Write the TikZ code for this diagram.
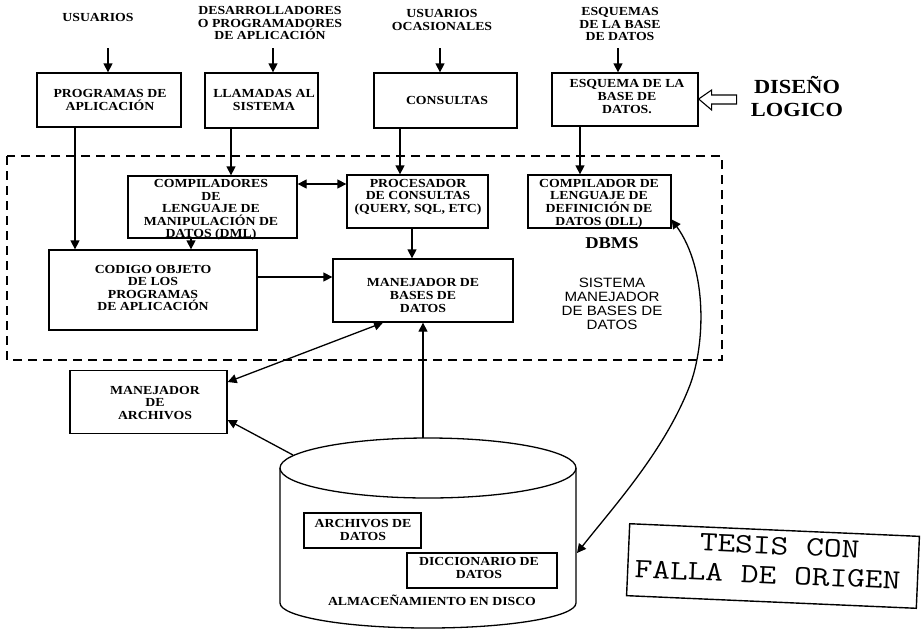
\documentclass[tikz,border=0pt]{standalone}
\usepackage{fontspec}
\setmainfont{Liberation Serif}[FakeStretch=1.12]
\setsansfont{Liberation Sans}[FakeStretch=1.12]
\usetikzlibrary{arrows.meta}

\tikzset{
  txt/.style={font=\bfseries\fontsize{12.3}{12.6}\selectfont, align=center, inner sep=0pt},
  box/.style={draw, line width=1.3pt, inner sep=0pt},
  arr/.style={line width=1.3pt, -{Triangle[length=9pt,width=9pt]}},
  darr/.style={line width=1.3pt, {Triangle[length=9pt,width=9pt]}-{Triangle[length=9pt,width=9pt]}},
  frame/.style={line width=1.9pt, dash pattern=on 9pt off 6pt},
  stamptxt/.style={font=\ttfamily\fontsize{28}{29.5}\selectfont, inner sep=0pt, transform shape},
}

\begin{document}
\begin{tikzpicture}[x=1pt,y=-1pt]
\useasboundingbox (0,0) rectangle (923,630);

% ---------- users and inputs ----------
\node[txt] (tusr) at (98,17) {USUARIOS};
\node[txt] (tdes) at (270,23) {DESARROLLADORES\\O PROGRAMADORES\\DE APLICACIÓN};
\node[txt] (tocas) at (442,20) {USUARIOS\\OCASIONALES};
\node[txt] (tesq) at (620,24) {ESQUEMAS\\DE LA BASE\\DE DATOS};

\coordinate (u0) at (108,48);
\coordinate (d0) at (273,48);
\coordinate (o0) at (440,48);
\coordinate (e0) at (618,48);

% ---------- first row of boxes ----------
\node[box, minimum width=144pt, minimum height=54pt] (progapp) at (109,100) {};
\node[txt] (tprog) at (110,100) {PROGRAMAS DE\\APLICACIÓN};
\node[box, minimum width=113pt, minimum height=55pt] (llam) at (261.5,100.5) {};
\node[txt] (tllam) at (264,100) {LLAMADAS AL\\SISTEMA};
\node[box, minimum width=143pt, minimum height=55pt] (cons) at (445.5,100.5) {};
\node[txt] (tcons) at (447,100) {CONSULTAS};
\node[box, minimum width=146pt, minimum height=53pt] (esq) at (625,99.5) {};
\node[txt] (tesq2) at (627,96.5) {ESQUEMA DE LA\\BASE DE\\DATOS.};

\draw[arr] (u0) -- (progapp.north -| u0);
\draw[arr] (d0) -- (llam.north -| d0);
\draw[arr] (o0) -- (cons.north -| o0);
\draw[arr] (e0) -- (esq.north -| e0);

% logical design hint
\node[font=\bfseries\fontsize{20}{23}\selectfont, align=center, inner sep=0pt] (tdis) at (797,97) {DISEÑO\\LOGICO};
\draw[line width=1.1pt] (esq.east |- 0,99) -- ++(13,-9) -- ++(0,5) -- ++(25,0) -- ++(0,9) -- ++(-25,0) -- ++(0,6) -- cycle;

% ---------- DBMS frame ----------
\draw[frame] (7,156) rectangle (722,360);
\node[font=\bfseries\fontsize{16.5}{18}\selectfont, inner sep=0pt] (tdbms) at (612,243) {DBMS};
\node[font=\sffamily\fontsize{13.5}{14}\selectfont, align=center, inner sep=0pt] (tsis) at (612,304) {SISTEMA\\MANEJADOR\\DE BASES DE\\DATOS};

\node[box, minimum width=169pt, minimum height=62pt] (comp) at (212.5,207) {};
\node[txt] (tcomp) at (211,210) {COMPILADORES\\DE\\LENGUAJE DE\\MANIPULACIÓN DE\\DATOS (DML)};
\node[box, minimum width=141pt, minimum height=53pt] (proc) at (417.5,201.5) {};
\node[txt] (tproc) at (418,197) {PROCESADOR\\DE CONSULTAS\\(QUERY, SQL, ETC)};
\node[box, minimum width=143pt, minimum height=53pt] (dll) at (599.5,201.5) {};
\node[txt] (tdll) at (599,203.5) {COMPILADOR DE\\LENGUAJE DE\\DEFINICIÓN DE\\DATOS (DLL)};

\node[box, minimum width=208pt, minimum height=80pt] (cod) at (153,290) {};
\node[txt] (tcod) at (153,288) {CODIGO OBJETO\\DE LOS\\PROGRAMAS\\DE APLICACIÓN};
\node[box, minimum width=180pt, minimum height=63pt] (mbd) at (423,290.5) {};
\node[txt] (tmbd) at (423,295.5) {MANEJADOR DE\\BASES DE\\DATOS};

\coordinate (xa) at (75,0);
\coordinate (xb) at (231,0);
\coordinate (xc) at (400,0);
\coordinate (xd) at (580,0);
\coordinate (xe) at (191,0);
\coordinate (xf) at (412,0);
\coordinate (ya) at (0,184);
\coordinate (yb) at (0,277);

\draw[arr] (progapp.south -| xa) -- (cod.north -| xa);
\draw[arr] (llam.south -| xb) -- (comp.north -| xb);
\draw[arr] (cons.south -| xc) -- (proc.north -| xc);
\draw[arr] (esq.south -| xd) -- (dll.north -| xd);
\draw[darr] (comp.east |- ya) -- (proc.west |- ya);
\draw[arr] (comp.south -| xe) -- (cod.north -| xe);
\draw[arr] (cod.east |- yb) -- (mbd.west |- yb);
\draw[arr] (proc.south -| xf) -- (mbd.north -| xf);

% ---------- file manager ----------
\node[box, minimum width=157pt, minimum height=63pt] (march) at (148.5,402) {};
\node[txt] (tmarch) at (155,403) {MANEJADOR\\DE\\ARCHIVOS};

% ---------- disk storage ----------
\draw[line width=1.3pt] (428,468) ellipse [x radius=148pt, y radius=30pt];
\draw[line width=1.3pt] (280,468) -- (280,603)
  arc[start angle=180, end angle=360, x radius=148pt, y radius=25pt] -- (576,468);
\coordinate (cyltop) at (423,438);
\coordinate (cylul) at (293,455);
\coordinate (cylr) at (577,553);

\node[box, minimum width=117pt, minimum height=35pt] (adat) at (362.5,530.5) {};
\node[txt] (tadat) at (363,530) {ARCHIVOS DE\\DATOS};
\node[box, minimum width=150pt, minimum height=35pt] (dicc) at (482,570.5) {};
\node[txt] (tdicc) at (479,568) {DICCIONARIO DE\\DATOS};
\node[txt] (talm) at (432,600) {ALMACEÑAMIENTO EN DISCO};

\coordinate (ma) at (383,0);
\coordinate (mb) at (0,382);
\coordinate (mc) at (0,420);
\draw[darr] (mbd.south -| ma) -- (march.east |- mb);
\draw[arr] (cyltop) -- (mbd.south -| cyltop);
\draw[arr] (cylul) -- (march.east |- mc);
\draw[darr] ([yshift=-18pt]dll.east) .. controls (708,270) and (705,345) .. (690,385)
  .. controls (665,450) and (615,505) .. (cylr);

% ---------- stamp ----------
\begin{scope}[rotate around={-2.5:(773,566)}]
  \node[draw, line width=1.4pt, minimum width=290pt, minimum height=72pt, inner sep=0pt, transform shape] (stamp) at (773,566) {};
  \node[stamptxt] (tst) at (768,563) {\scalebox{1.23}[1]{\begin{tabular}{@{}l@{}}\hspace*{52pt}TESIS CON\\FALLA DE ORIGEN\end{tabular}}};
\end{scope}
\end{tikzpicture}
\end{document}
